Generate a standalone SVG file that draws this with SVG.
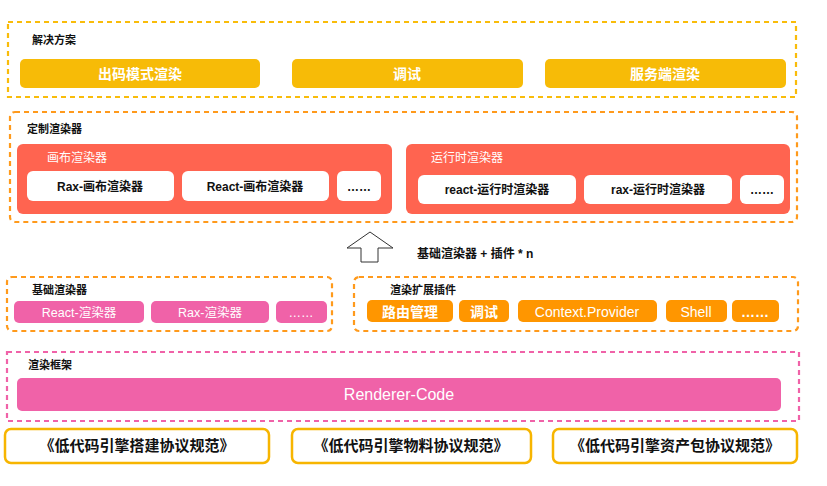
<svg xmlns="http://www.w3.org/2000/svg" width="827" height="486" viewBox="0 0 827 486">
<style>
text{font-family:"Liberation Sans","Noto Sans CJK SC",sans-serif;font-weight:bold}
.lbl{font-size:11px;fill:#111}
.dash{fill:none;stroke-width:2.2;stroke-dasharray:5 4}
.y{stroke:#F9BC0A}
.o{stroke:#FF9A1C}
.p{stroke:#F062A8}
.wt{fill:#fff;text-anchor:middle}
.bt{fill:#111;text-anchor:middle}
.n{font-weight:normal}
</style>
<rect width="827" height="486" fill="#fff"/>
<g id="solution">
<rect class="dash y" x="8" y="22" width="788" height="75"/>
<text class="lbl" x="32" y="44">解决方案</text>
</g>
<g id="chuma"><rect x="20" y="59" width="240" height="29" rx="5" fill="#F7BB07"/><text class="wt" x="140" y="79" font-size="14">出码模式渲染</text></g>
<g id="tiaoshi1"><rect x="292" y="59" width="231" height="29" rx="5" fill="#F7BB07"/><text class="wt" x="407" y="79" font-size="14">调试</text></g>
<g id="fuwu"><rect x="545" y="59" width="241" height="29" rx="5" fill="#F7BB07"/><text class="wt" x="665" y="79" font-size="14">服务端渲染</text></g>

<g id="custom">
<rect class="dash o" x="10" y="112" width="787" height="110" rx="5"/>
<text class="lbl" x="27" y="133">定制渲染器</text>
</g>
<g id="canvas">
<rect x="17" y="144" width="375" height="70" rx="6" fill="#FF6450"/>
<text class="n" x="47" y="162" font-size="12" fill="#fff">画布渲染器</text>
<rect x="27" y="171" width="147" height="30" rx="6" fill="#fff"/><text class="bt" x="100" y="191" font-size="12">Rax-画布渲染器</text>
<rect x="182" y="171" width="147" height="30" rx="6" fill="#fff"/><text class="bt" x="255" y="191" font-size="12">React-画布渲染器</text>
<rect x="337" y="171" width="44" height="30" rx="6" fill="#fff"/><text class="bt" x="359" y="191" font-size="12">……</text>
</g>
<g id="runtime">
<rect x="406" y="144" width="384" height="70" rx="6" fill="#FF6450"/>
<text class="n" x="431" y="162" font-size="12" fill="#fff">运行时渲染器</text>
<rect x="418" y="175" width="158" height="29" rx="6" fill="#fff"/><text class="bt" x="497" y="194" font-size="12">react-运行时渲染器</text>
<rect x="584" y="175" width="148" height="29" rx="6" fill="#fff"/><text class="bt" x="658" y="194" font-size="12">rax-运行时渲染器</text>
<rect x="740" y="175" width="44" height="29" rx="6" fill="#fff"/><text class="bt" x="762" y="194" font-size="12">……</text>
</g>

<g id="connectors">
<polygon points="370,232 393,248 378,248 378,262 361,262 361,248 347,248" fill="#fff" stroke="#333" stroke-width="1"/>
<text x="417" y="258" font-size="12" fill="#111">基础渲染器 + 插件 * n</text>
</g>

<g id="base">
<rect class="dash o" x="7" y="277" width="325" height="54" rx="5"/>
<text class="lbl" x="32" y="294">基础渲染器</text>
<rect x="14" y="301" width="130" height="22" rx="5" fill="#F062A8"/><text class="wt n" x="79" y="317" font-size="12.5">React-渲染器</text>
<rect x="151" y="301" width="118" height="22" rx="5" fill="#F062A8"/><text class="wt n" x="210" y="317" font-size="12.5">Rax-渲染器</text>
<rect x="276" y="301" width="51" height="22" rx="5" fill="#F062A8"/><text class="wt n" x="301" y="317" font-size="12.5">……</text>
</g>
<g id="plugins">
<rect class="dash o" x="354" y="277" width="444" height="54" rx="5"/>
<text class="lbl" x="390" y="294">渲染扩展插件</text>
<rect x="367" y="300" width="86" height="22" rx="5" fill="#FF9600"/><text class="wt" x="410" y="316.5" font-size="14">路由管理</text>
<rect x="459" y="300" width="50" height="22" rx="5" fill="#FF9600"/><text class="wt" x="484" y="316.5" font-size="14">调试</text>
<rect x="518" y="300" width="139" height="22" rx="5" fill="#FF9600"/><text class="wt n" x="587" y="316.5" font-size="14">Context.Provider</text>
<rect x="666" y="300" width="61" height="22" rx="5" fill="#FF9600"/><text class="wt n" x="696" y="316.5" font-size="14">Shell</text>
<rect x="732" y="300" width="47" height="22" rx="5" fill="#FF9600"/><text class="wt" x="755" y="316.5" font-size="14">……</text>
</g>

<g id="framework">
<rect class="dash p" x="7" y="352" width="792" height="69"/>
<text class="lbl" x="28" y="369">渲染框架</text>
<rect x="17" y="378" width="764" height="33" rx="5" fill="#F062A8"/>
<text class="wt n" x="399" y="400" font-size="16">Renderer-Code</text>
</g>

<g id="spec1"><rect x="5" y="429" width="264" height="34" rx="6" fill="#fff" stroke="#F7B500" stroke-width="2.5"/><text class="bt" x="137" y="451" font-size="15">《低代码引擎搭建协议规范》</text></g>
<g id="spec2"><rect x="292" y="429" width="239" height="34" rx="6" fill="#fff" stroke="#F7B500" stroke-width="2.5"/><text class="bt" x="411" y="451" font-size="15">《低代码引擎物料协议规范》</text></g>
<g id="spec3"><rect x="553" y="429" width="244" height="34" rx="6" fill="#fff" stroke="#F7B500" stroke-width="2.5"/><text class="bt" x="675" y="451" font-size="15">《低代码引擎资产包协议规范》</text></g>
</svg>
